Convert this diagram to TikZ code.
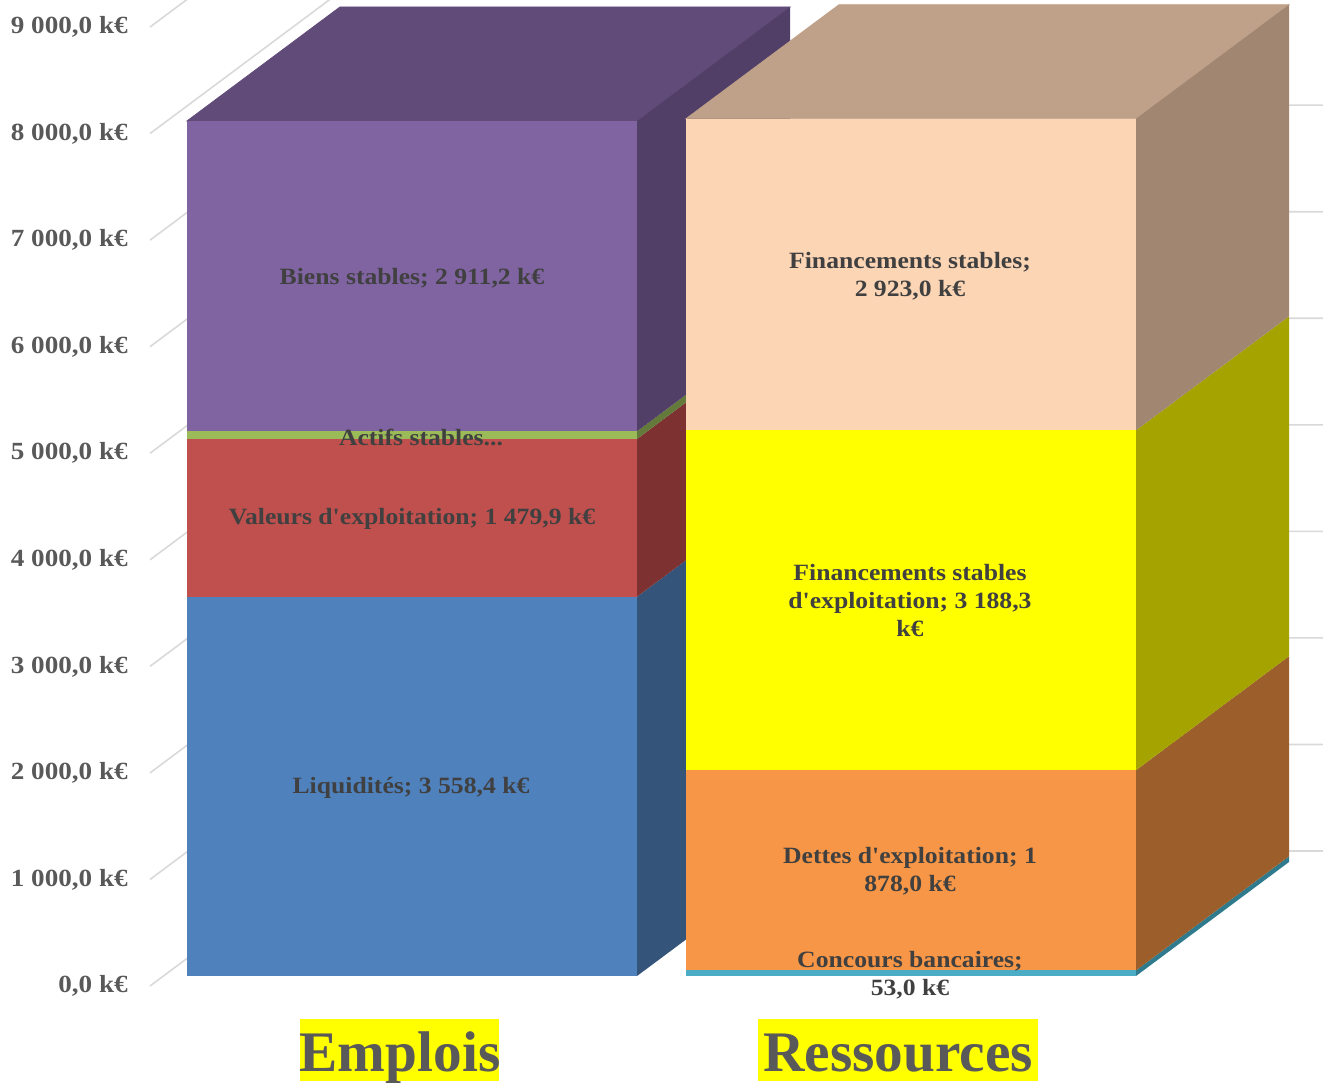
\documentclass[tikz,border=0pt]{standalone}
\usepackage{fontspec}
\setmainfont{Liberation Serif}
\newfontfamily\lblfont{Liberation Serif}[FakeStretch=1.1]
\newfontfamily\catfont{Liberation Serif}
\usetikzlibrary{positioning}
\definecolor{liq}{HTML}{4F81BD}
\definecolor{liqside}{HTML}{345479}
\definecolor{val}{HTML}{C0504D}
\definecolor{valside}{HTML}{7D3231}
\definecolor{act}{HTML}{9BBB59}
\definecolor{actside}{HTML}{647A3A}
\definecolor{bie}{HTML}{8064A2}
\definecolor{bieside}{HTML}{523F68}
\definecolor{bietop}{HTML}{614B79}
\definecolor{con}{HTML}{4BACC6}
\definecolor{conside}{HTML}{2F7A8C}
\definecolor{det}{HTML}{F79646}
\definecolor{detside}{HTML}{9C5F2B}
\definecolor{fse}{HTML}{FFFF00}
\definecolor{fseside}{HTML}{A5A300}
\definecolor{fin}{HTML}{FCD5B5}
\definecolor{finside}{HTML}{A18772}
\definecolor{fintop}{HTML}{BFA088}
\definecolor{txt}{HTML}{404040}
\definecolor{axis}{HTML}{595959}
\definecolor{gridc}{HTML}{D9D9D9}
\definecolor{hilite}{HTML}{FFFF00}
\def\dx{153}
\def\dy{114}
\def\bw{450}
\def\base{976}
\def\unit{0.1066}
% one slice of a 3d column: x, from, to, front, side
\newcommand{\slice}[5]{\fill[#4] (#1,{\base-#2*\unit}) rectangle ({#1+\bw},{\base-#3*\unit});
	\fill[#5] ({#1+\bw},{\base-#2*\unit}) -- ++(\dx,-\dy) -- ({#1+\bw+\dx},{\base-#3*\unit-\dy}) -- ({#1+\bw},{\base-#3*\unit}) -- cycle;}
% lid of a column: x, value, colour
\newcommand{\lid}[3]{\filldraw[fill=#3,draw=#3,line width=0.6pt] (#1,{\base-#2*\unit}) -- ++(\bw,0) -- ++(\dx,-\dy) -- ++(-\bw,0) -- cycle;}
\tikzset{
	datalbl/.style={text=txt,font=\lblfont\bfseries\fontsize{17.5}{21}\selectfont,align=center,inner sep=0pt},
	axislbl/.style={text=axis,font=\lblfont\bfseries\fontsize{18.5}{22}\selectfont,anchor=east,inner sep=0pt},
	catlbl/.style={text=axis,font=\catfont\bfseries\fontsize{43}{50}\selectfont,anchor=base,inner sep=0pt},
	grid line/.style={draw=gridc,line width=1.2pt}
}
\begin{document}
\begin{tikzpicture}[x=0.75pt,y=-0.75pt]
	\useasboundingbox (0,0) rectangle (1323,1082);
	\begin{scope}
		\clip (0,0) rectangle (1323,1082);
		\foreach \i in {0,...,9}
			\draw[grid line] (150,{986-106.55*\i}) -- ++(181,-135) -- (1323,{851-106.55*\i});
		% Emplois
		\lid{187}{8021.2}{bietop}
		\slice{187}{0}{3558.4}{liq}{liqside}
		\slice{187}{3558.4}{5038.3}{val}{valside}
		\slice{187}{5038.3}{5110}{act}{actside}
		\slice{187}{5110}{8021.2}{bie}{bieside}
		% Ressources
		\lid{686}{8042.3}{fintop}
		\slice{686}{0}{53}{con}{conside}
		\slice{686}{53}{1931}{det}{detside}
		\slice{686}{1931}{5119.3}{fse}{fseside}
		\slice{686}{5119.3}{8042.3}{fin}{finside}
	\end{scope}

	\foreach \i in {0,...,9}{
		\ifnum\i=0
			\node[axislbl] (tick\i) at (128,986) {0,0 k€};
		\else
			\node[axislbl] (tick\i) at (128,{986-106.55*\i}) {\i\ 000,0 k€};
		\fi
	}

	\node[datalbl] (biens) at (412,278) {Biens stables; 2 911,2 k€};
	\node[datalbl] (actifs) at (421,437) {Actifs stables...};
	\node[datalbl] (valeurs) at (412,519) {Valeurs d'exploitation; 1 479,9 k€};
	\node[datalbl] (liquid) at (411,788) {Liquidités; 3 558,4 k€};
	\node[datalbl] (finstab) at (910,276) {Financements stables;\\2 923,0 k€};
	\node[datalbl] (finexpl) at (910,601) {Financements stables\\d'exploitation; 3 188,3\\k€};
	\node[datalbl] (dettes) at (910,871) {Dettes d'exploitation; 1\\878,0 k€};
	\node[datalbl] (concours) at (910,975) {Concours bancaires;\\53,0 k€};

	\fill[hilite] (300,1019) rectangle (499,1081);
	\fill[hilite] (758,1019) rectangle (1038,1081);
	\node[catlbl] (emplois) at (400,1071) {Emplois};
	\node[catlbl] (ressources) at (898,1071) {Ressources};
\end{tikzpicture}
\end{document}
